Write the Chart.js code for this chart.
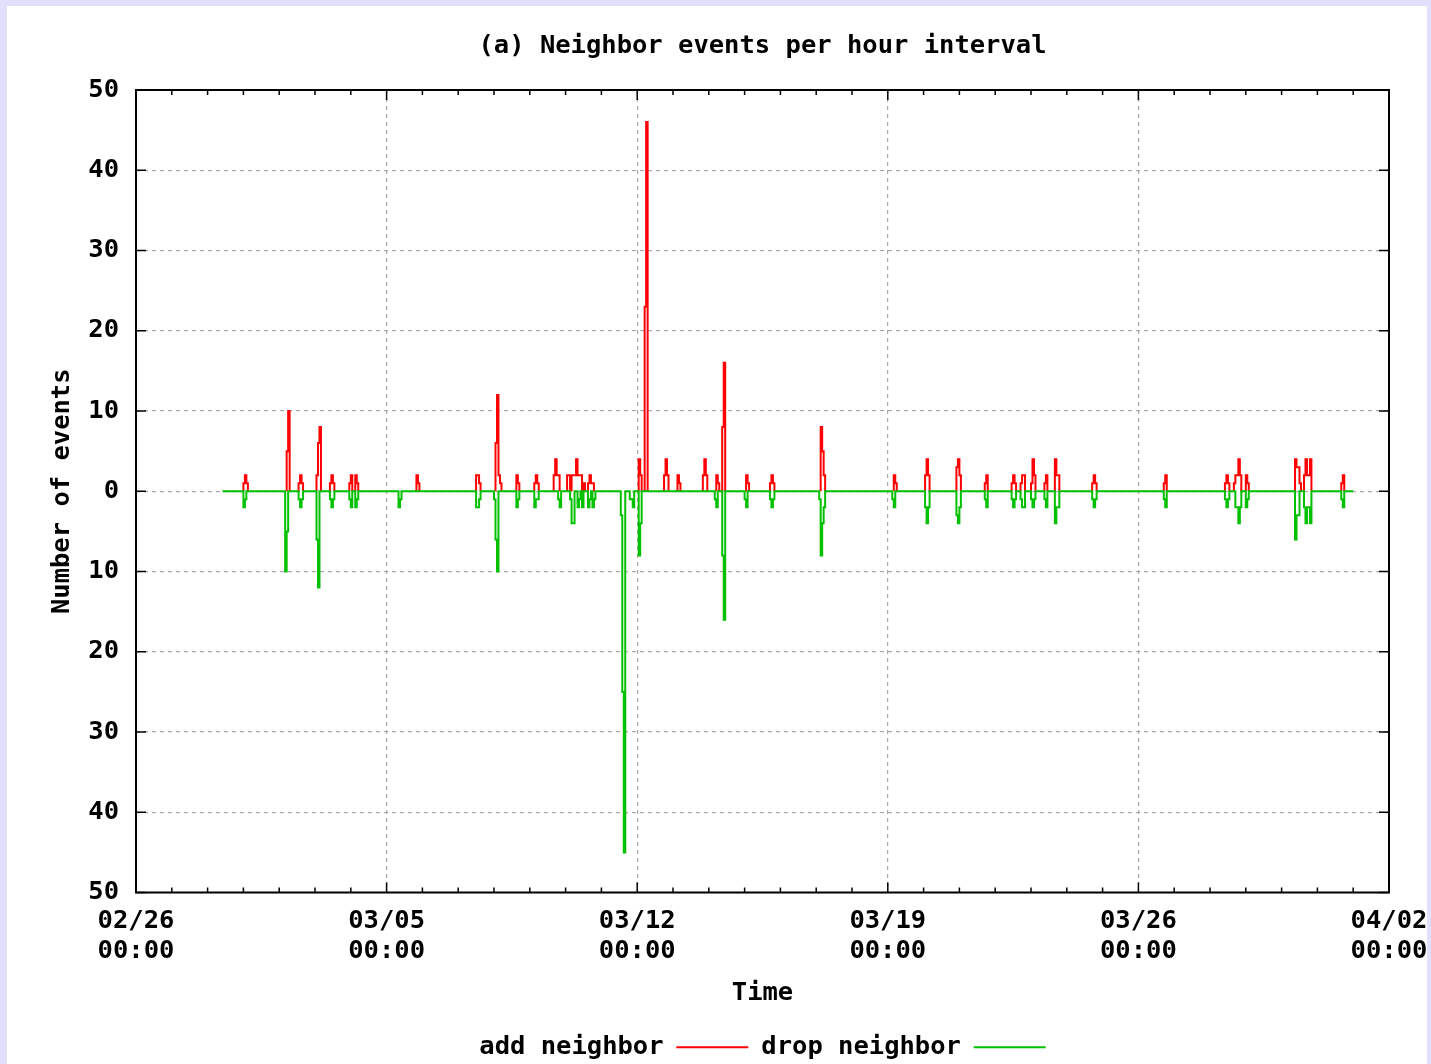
<!DOCTYPE html>
<html>
<head>
<meta charset="utf-8">
<script src="https://cdn.jsdelivr.net/npm/chart.js@4"></script>
<style>
  html, body { margin: 0; padding: 0; background: #e0e0fc; }
  #wrap { position: absolute; left: 7px; top: 6px; width: 1420px; height: 1058px; background: #fff; }
</style>
</head>
<body>
<div id="wrap"><canvas id="events"></canvas></div>
<script>
// hours counted from 02/26 00:00, one bin per hour
const startHour = 58;
const endHour = 816;
const xTickLabels = ['02/26', '03/05', '03/12', '03/19', '03/26', '04/02'];

const addHours = [72, 73, 74, 101, 102, 109, 110, 111, 121, 122, 123, 130, 131, 132, 143, 144, 147, 148,
  188, 189, 228, 229, 230, 241, 242, 243, 244, 255, 256, 267, 268, 269, 280, 281, 282, 283,
  289, 290, 292, 293, 294, 295, 296, 297, 298, 300, 303, 304, 305, 306, 337, 338, 341, 342,
  354, 355, 356, 363, 364, 380, 381, 382, 389, 390, 393, 394, 409, 410, 425, 426, 427,
  459, 460, 461, 508, 509, 529, 530, 531, 550, 551, 552, 569, 570, 587, 588, 589,
  593, 594, 595, 600, 601, 602, 609, 610, 616, 617, 618, 641, 642, 643, 689, 690,
  730, 731, 732, 736, 737, 738, 739, 740, 744, 745, 777, 778, 779, 780,
  783, 784, 785, 786, 787, 808, 809];
const addCounts = [1, 2, 1, 5, 10, 1, 2, 1, 2, 6, 8, 1, 2, 1, 1, 2, 2, 1,
  2, 1, 2, 2, 1, 6, 12, 2, 1, 2, 1, 1, 2, 1, 2, 4, 2, 2,
  2, 2, 2, 2, 2, 4, 2, 2, 2, 1, 1, 2, 1, 1, 4, 2, 23, 46,
  2, 4, 2, 2, 1, 2, 4, 2, 2, 1, 8, 16, 2, 1, 1, 2, 1,
  8, 5, 2, 2, 1, 2, 4, 2, 3, 4, 2, 1, 2, 1, 2, 1,
  1, 2, 2, 1, 4, 2, 1, 2, 4, 2, 2, 1, 2, 1, 1, 2,
  1, 2, 1, 1, 2, 2, 4, 2, 2, 1, 4, 3, 3, 1,
  2, 4, 2, 2, 4, 1, 2];

const dropHours = [72, 73, 100, 101, 109, 110, 111, 121, 122, 130, 131, 132, 143, 144, 147, 148,
  176, 177, 228, 229, 230, 240, 241, 242, 255, 256, 267, 268, 269, 283, 284,
  291, 292, 293, 296, 297, 299, 303, 304, 306, 307, 325, 326, 327, 331, 332, 333, 337, 338,
  388, 389, 393, 394, 408, 409, 425, 426, 427, 458, 459, 460, 461, 507, 508,
  529, 530, 531, 550, 551, 552, 569, 570, 587, 588, 589, 593, 594, 595, 600, 601, 602,
  609, 610, 616, 617, 618, 641, 642, 643, 689, 690, 730, 731, 732,
  737, 738, 739, 740, 744, 745, 777, 778, 779, 783, 784, 785, 786, 787, 808, 809];
const dropCounts = [2, 1, 10, 5, 1, 2, 1, 6, 12, 1, 2, 1, 1, 2, 2, 1,
  2, 1, 2, 2, 1, 1, 6, 10, 2, 1, 2, 1, 1, 1, 2,
  1, 4, 4, 2, 1, 2, 2, 1, 2, 1, 3, 25, 45, 1, 1, 2, 8, 4,
  1, 2, 8, 16, 1, 2, 1, 2, 1, 1, 8, 4, 2, 1, 2,
  2, 4, 2, 3, 4, 2, 1, 2, 1, 2, 1, 1, 2, 2, 1, 2, 1,
  1, 2, 4, 2, 2, 1, 2, 1, 1, 2, 1, 2, 1,
  2, 2, 4, 2, 2, 1, 6, 3, 3, 2, 4, 2, 2, 4, 1, 2];

// sparse hourly counts -> step series; withBase keeps the zero line between bursts
function stepSeries(hours, counts, sign, withBase) {
  const pts = withBase ? [{ x: startHour, y: 0 }] : [];
  hours.forEach((h, i) => {
    if (!withBase && hours[i - 1] !== h - 1) pts.push({ x: h, y: 0 });
    pts.push({ x: h, y: sign * counts[i] });
    if (hours[i + 1] !== h + 1) {
      pts.push({ x: h + 1, y: 0 });
      if (!withBase) pts.push({ x: h + 1, y: null });
    }
  });
  if (withBase) pts.push({ x: endHour, y: 0 });
  return pts;
}

const frameTicks = {
  id: 'frameTicks',
  afterDatasetsDraw(chart) {
    const { ctx, chartArea: a, scales: { x, y } } = chart;
    ctx.save();
    ctx.strokeStyle = '#000';
    ctx.lineWidth = 1.5;
    ctx.beginPath();
    for (let h = 0; h <= 840; h += 24) {
      const px = x.getPixelForValue(h);
      const len = h % 168 === 0 ? 10 : 5;
      ctx.moveTo(px, a.bottom); ctx.lineTo(px, a.bottom - len);
      ctx.moveTo(px, a.top); ctx.lineTo(px, a.top + len);
    }
    y.ticks.forEach(t => {
      const py = y.getPixelForValue(t.value);
      ctx.moveTo(a.left, py); ctx.lineTo(a.left + 10, py);
      ctx.moveTo(a.right, py); ctx.lineTo(a.right - 10, py);
    });
    ctx.stroke();
    ctx.lineWidth = 2;
    ctx.strokeRect(a.left, a.top, a.right - a.left, a.bottom - a.top);
    ctx.restore();
  }
};

Chart.defaults.font = { family: 'DejaVu Sans Mono', size: 25.5, weight: 'bold', lineHeight: '30px' };
Chart.defaults.color = '#000';

new Chart(document.getElementById('events'), {
  type: 'line',
  data: {
    datasets: [{
      label: 'add neighbor',
      data: stepSeries(addHours, addCounts, 1, false),
      borderColor: '#ff0000',
      backgroundColor: '#ff0000',
      order: 1
    }, {
      label: 'drop neighbor',
      data: stepSeries(dropHours, dropCounts, -1, true),
      borderColor: '#00c000',
      backgroundColor: '#00c000',
      order: 0
    }]
  },
  options: {
    responsive: true,
    maintainAspectRatio: false,
    animation: false,
    layout: { padding: { left: 0, right: 38, top: 0, bottom: -6 } },
    elements: {
      line: { stepped: true, borderWidth: 2, tension: 0 },
      point: { radius: 0 }
    },
    scales: {
      x: {
        type: 'linear',
        min: 0,
        max: 840,
        ticks: {
          stepSize: 168,
          autoSkip: false,
          maxRotation: 0,
          padding: 14,
          callback: v => [xTickLabels[Math.round(v / 168)], '00:00']
        },
        grid: { color: '#a8a8a8', lineWidth: 1.2, drawTicks: false },
        border: { display: false, dash: [4, 4] },
        title: { display: true, text: 'Time', padding: { top: 0, bottom: 13 } },
        afterFit: s => { s.paddingLeft = 0; s.paddingRight = 0; s.height = 129; }
      },
      y: {
        min: -50,
        max: 50,
        ticks: { stepSize: 10, padding: 17, callback: v => String(Math.abs(v)) },
        grid: { color: '#a8a8a8', lineWidth: 1.2, drawTicks: false },
        border: { display: false, dash: [4, 4] },
        title: { display: true, text: 'Number of events', padding: { top: 40, bottom: 0 } },
        afterFit: s => { s.width = 129; }
      }
    },
    plugins: {
      title: {
        display: true,
        fullSize: false,
        text: '(a) Neighbor events per hour interval',
        padding: { top: 25, bottom: 29 }
      },
      legend: {
        position: 'bottom',
        fullSize: false,
        rtl: true,
        labels: {
          boxWidth: 72,
          boxHeight: 2,
          padding: 13,
          generateLabels: chart => Chart.defaults.plugins.legend.labels.generateLabels(chart)
            .map(item => Object.assign(item, { lineWidth: 0 }))
        }
      },
      tooltip: { enabled: false }
    }
  },
  plugins: [frameTicks]
});
</script>
</body>
</html>
